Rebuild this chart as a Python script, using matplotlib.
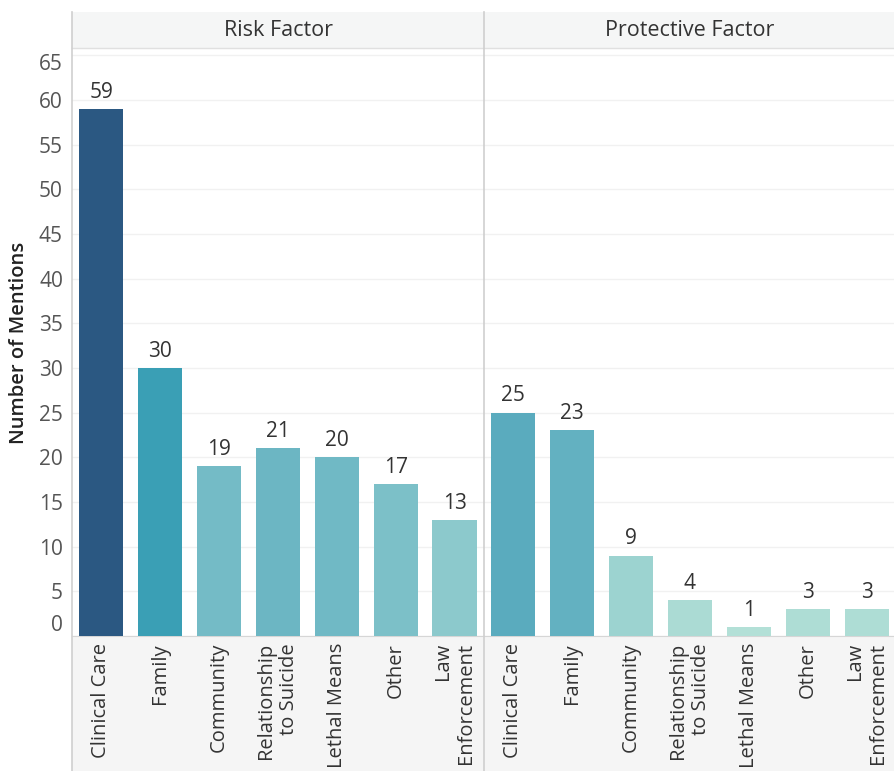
import matplotlib
matplotlib.use("Agg")
import matplotlib.pyplot as plt
import matplotlib.transforms as mtransforms
from matplotlib.colors import LinearSegmentedColormap
from matplotlib.patches import Rectangle

# Mentions by theme, split by factor type
panels = ["Risk Factor", "Protective Factor"]
categories = ["Clinical Care", "Family", "Community", "Relationship\nto Suicide",
              "Lethal Means", "Other", "Law\nEnforcement"]
risk_counts = [59, 30, 19, 21, 20, 17, 13]
protective_counts = [25, 23, 9, 4, 1, 3, 3]
y_ticks = list(range(0, 70, 5))

# sequential blue-teal scale, coloured by count
cmap = LinearSegmentedColormap.from_list(
    "blue_teal",
    [(0.0, "#b6e2d8"), (0.15, "#9dd3d0"), (0.29, "#7bbfc8"), (0.36, "#6bb6c3"),
     (0.43, "#58aabe"), (0.51, "#3a9fb5"), (1.0, "#2b5882")])
vmax = max(risk_counts)

plt.rcParams["font.family"] = ["Open Sans", "DejaVu Sans"]

W, H = 894, 771
fig = plt.figure(figsize=(W / 100, H / 100), dpi=100)

left, top_head, head_bot, base = 72, 12, 48, 636
panel_w = 412
text_col = "#333333"
tick_col = "#555555"
fs = 15

# label band under the bars and header band on top
fig.patches.append(Rectangle((left / W, 0), 1, (H - base) / H, transform=fig.transFigure,
                             facecolor="#f5f5f5", edgecolor="none", zorder=-1))
fig.patches.append(Rectangle((left / W, (H - head_bot) / H), 1, (head_bot - top_head) / H,
                             transform=fig.transFigure, facecolor="#f5f6f6",
                             edgecolor="none", zorder=-1))

ymax = 65.8
axes = []
for i, (name, counts) in enumerate(zip(panels, [risk_counts, protective_counts])):
    x0 = left + i * panel_w
    ax = fig.add_axes([x0 / W, (H - base) / H, panel_w / W, (base - head_bot) / H])
    axes.append(ax)
    xs = list(range(len(categories)))
    colors = [cmap(v / vmax) for v in counts]
    ax.bar(xs, counts, width=0.75, color=colors, zorder=3)
    for x, v in zip(xs, counts):
        ax.text(x, v + 0.7, str(v), ha="center", va="bottom", fontsize=fs,
                color=text_col, zorder=4)
    ax.set_xlim(-0.5, len(categories) - 0.5)
    ax.set_ylim(0, ymax)
    ax.tick_params(axis="x", length=0, pad=5)
    ax.tick_params(axis="y", length=0, pad=6.5, labelsize=fs, labelcolor=tick_col)
    ax.set_yticks(y_ticks)
    ax.grid(axis="y", color="#f1f1f1", linewidth=1, zorder=0)
    ax.set_xticks(xs)
    ax.set_xticklabels(categories, rotation=90, ha="center", va="top",
                       multialignment="right", fontsize=14.5, color=text_col)
    for s in ["top", "right", "left"]:
        ax.spines[s].set_visible(False)
    ax.spines["bottom"].set_color("#d6d6d6")
    ax.set_facecolor("none")
    if i > 0:
        ax.set_yticklabels([])

    # panel header
    fig.text((x0 + panel_w / 2) / W, (H - (top_head + head_bot) / 2) / H, name,
             ha="center", va="center", fontsize=15.5, color=text_col)

# nudge the outermost y labels inward
ylabels = axes[0].get_yticklabels()
ylabels[0].set_transform(ylabels[0].get_transform() +
                         mtransforms.ScaledTranslation(0, 13 / 100, fig.dpi_scale_trans))
ylabels[-1].set_transform(ylabels[-1].get_transform() +
                          mtransforms.ScaledTranslation(0, -7 / 100, fig.dpi_scale_trans))

axes[0].set_ylabel("Number of Mentions", fontsize=14.5, fontweight="semibold",
                   color="#222222")
axes[0].yaxis.set_label_coords(-43 / panel_w, (base - 343) / (base - head_bot))

# frame lines: left edge, panel divider, header bottom
line_kw = dict(transform=fig.transFigure, color="#cfcfcf", linewidth=1.2, zorder=5)
fig.add_artist(plt.Line2D([left / W] * 2, [0, (H - top_head) / H], **line_kw))
fig.add_artist(plt.Line2D([(left + panel_w) / W] * 2, [0, (H - top_head) / H], **line_kw))
fig.add_artist(plt.Line2D([left / W, 1], [(H - head_bot) / H] * 2,
                          transform=fig.transFigure, color="#e0e0e0", linewidth=1))

fig.savefig("out.png", dpi=100)
